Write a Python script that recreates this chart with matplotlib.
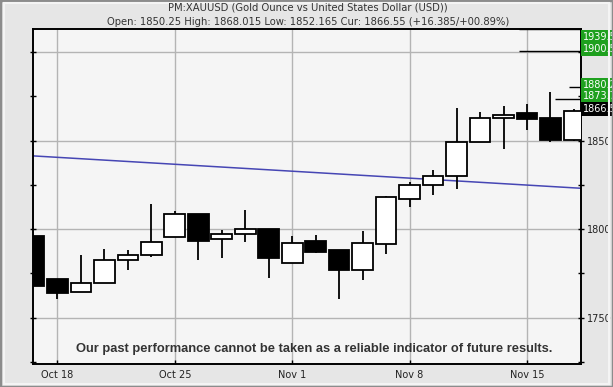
import matplotlib
matplotlib.use("Agg")
import matplotlib.pyplot as plt
from matplotlib.patches import Rectangle

# ---------------- data ----------------
dates = ["2021-10-15", "2021-10-18", "2021-10-19", "2021-10-20", "2021-10-21", "2021-10-22",
         "2021-10-25", "2021-10-26", "2021-10-27", "2021-10-28", "2021-10-29",
         "2021-11-01", "2021-11-02", "2021-11-03", "2021-11-04", "2021-11-05",
         "2021-11-08", "2021-11-09", "2021-11-10", "2021-11-11", "2021-11-12",
         "2021-11-15", "2021-11-16", "2021-11-17"]
opens  = [1796.2, 1771.9, 1764.3, 1769.4, 1782.4, 1785.3, 1795.4, 1808.6, 1794.3, 1797.1, 1800.1,
          1780.7, 1793.3, 1788.0, 1777.1, 1791.5, 1816.9, 1824.8, 1829.9, 1849.1, 1862.7,
          1865.6, 1862.7, 1850.25]
highs  = [1796.2, 1771.9, 1785.4, 1788.8, 1788.3, 1814.2, 1810.3, 1808.6, 1799.4, 1810.8, 1800.1,
          1796.2, 1796.6, 1788.0, 1798.8, 1818.6, 1826.7, 1833.6, 1868.5, 1866.2, 1869.4,
          1870.7, 1877.5, 1868.015]
lows   = [1768.1, 1760.7, 1764.3, 1769.4, 1777.1, 1784.1, 1795.4, 1782.8, 1783.9, 1792.9, 1772.6,
          1780.7, 1786.6, 1760.4, 1771.5, 1786.2, 1812.7, 1819.3, 1822.9, 1849.1, 1845.5,
          1856.2, 1849.4, 1850.0]
closes = [1768.1, 1764.1, 1769.4, 1782.4, 1785.3, 1792.8, 1808.6, 1793.5, 1797.1, 1799.9, 1783.9,
          1792.1, 1787.3, 1777.1, 1792.0, 1818.0, 1824.8, 1829.9, 1849.1, 1862.7, 1864.3,
          1862.1, 1850.4, 1866.55]

tick_dates  = ["2021-10-18", "2021-10-25", "2021-11-01", "2021-11-08", "2021-11-15"]
tick_labels = ["Oct 18", "Oct 25", "Nov 1", "Nov 8", "Nov 15"]

trend_x = [-0.04, 23.30]
trend_y = [1841.4, 1823.1]

target_values = [1939.5, 1900.5, 1880.2, 1873.7]
target_start  = [20.66, 20.66, 22.79, 22.19]
target_labels = ["1939.5", "1900.5", "1880.2", "1873.7"]
current_value = 1866.55
current_label = "1866.55"

title1 = "PM:XAUUSD (Gold Ounce vs United States Dollar (USD))"
title2 = "Open: 1850.25 High: 1868.015 Low: 1852.165 Cur: 1866.55 (+16.385/+00.89%)"
disclaimer = "Our past performance cannot be taken as a reliable indicator of future results."

# ---------------- figure ----------------
XMIN, XMAX = -0.04, 23.30
YMIN, YMAX = 1723.8, 1913.1

fig = plt.figure(figsize=(6.13, 3.87), dpi=100)
fig.patch.set_facecolor("#e6e6e6")
# bevel border
fig.patches.append(Rectangle((0, 0), 1, 1, transform=fig.transFigure, fill=False,
                             edgecolor="#8c8c8c", linewidth=2.5))
fig.patches.append(Rectangle((0.006, 0.009), 0.988, 0.982, transform=fig.transFigure, fill=False,
                             edgecolor="#f4f4f4", linewidth=1.5))

ax = fig.add_axes([33 / 613, 23 / 387, 548 / 613, 335 / 387])
ax.set_facecolor("#f5f5f5")
ax.set_xlim(XMIN, XMAX)
ax.set_ylim(YMIN, YMAX)

x = list(range(len(dates)))

# grid
ax.set_axisbelow(True)
ax.grid(True, which="major", color="#b4b4b4", linewidth=1.0)

# trend line
ax.plot(trend_x, trend_y, color="#4646b4", linewidth=1.1, zorder=2)

# candles
width = 0.88
for xi, o, h, l, c in zip(x, opens, highs, lows, closes):
    ax.vlines(xi, l, h, color="black", linewidth=1.3, zorder=3)
    up = c >= o
    bottom = min(o, c)
    height = max(abs(c - o), 0.6)
    ax.add_patch(Rectangle((xi - width / 2, bottom), width, height,
                           facecolor="white" if up else "black",
                           edgecolor="black", linewidth=1.3, zorder=4))

# target lines
for v, s in zip(target_values, target_start):
    yv = min(v, YMAX - 0.15)
    ax.hlines(yv, s, XMAX, color="black", linewidth=1.0, zorder=5, clip_on=False)

# right-hand labels (boxes), pushed apart to avoid overlap
box_h = 5.6
all_vals = target_values + [current_value]
all_labs = target_labels + [current_label]
all_cols = ["#1ea01e"] * len(target_values) + ["black"]
order = sorted(range(len(all_vals)), key=lambda k: -all_vals[k])
pos = {}
prev = None
for k in order:
    p = min(all_vals[k] + 1.5, YMAX - 4.5)
    if prev is not None:
        p = min(p, prev - box_h)
    pos[k] = p
    prev = p
for k in order:
    ax.text(1.0 + 2 / 548, pos[k], all_labs[k], transform=ax.get_yaxis_transform(),
            ha="left", va="center", fontsize=7, color="white", family="DejaVu Sans",
            bbox=dict(boxstyle="square,pad=0.2", facecolor=all_cols[k], edgecolor="none"),
            clip_on=False, zorder=6)

# axes styling
for sp in ax.spines.values():
    sp.set_color("black")
    sp.set_linewidth(1.4)

ax.yaxis.tick_right()
ax.set_yticks([1750, 1800, 1850, 1900])
ax.set_yticks([1725, 1775, 1825, 1875], minor=True)
ax.set_yticklabels(["1750", "1800", "1850", ""], fontsize=7, color="#222222", family="DejaVu Sans")
ax.tick_params(axis="y", which="both", direction="inout", length=4, width=1, left=True, right=True,
               pad=2)

tick_pos = [dates.index(d) for d in tick_dates]
ax.set_xticks(tick_pos)
ax.set_xticklabels(tick_labels, fontsize=7, color="#222222", family="DejaVu Sans")
ax.tick_params(axis="x", direction="in", length=3, width=1, pad=4)

# titles
fig.text(308 / 613, 1 - 7.5 / 387, title1, ha="center", va="center", fontsize=7.2,
         color="#333333", family="DejaVu Sans")
fig.text(308 / 613, 1 - 22 / 387, title2, ha="center", va="center", fontsize=7.2,
         color="#333333", family="DejaVu Sans")

# disclaimer
ax.text(0.513, (364 - 349) / 335, disclaimer, transform=ax.transAxes, ha="center", va="center",
        fontsize=9.3, fontweight="bold", color="#333333",
        family=["Liberation Sans", "DejaVu Sans"], zorder=7)

fig.savefig("out.png", dpi=100, facecolor=fig.get_facecolor())
